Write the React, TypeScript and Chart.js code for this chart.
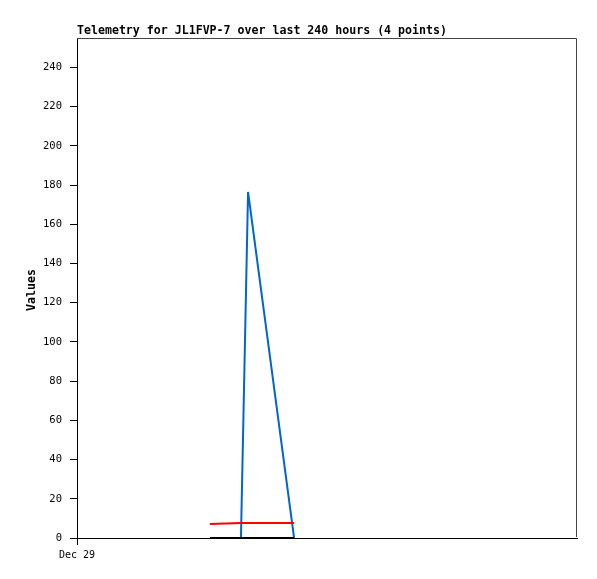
import React, { useEffect, useRef } from "react";
import { Chart, registerables } from "chart.js";

Chart.register(...registerables);

const TITLE = "Telemetry for JL1FVP-7 over last 240 hours (4 points)";
const Y_TITLE = "Values";
const X_LABEL = "Dec 29";

// hours since Dec 29 00:00
const times = [63.8, 78.7, 82.1, 104.2];
const seriesBlue = [0, 0, 176.5, 0];
const seriesRed = [7.1, 7.7, 7.7, 7.7];
const seriesBlack = [0, 0, 0, 0];

const X_MIN = 0;
const X_MAX = 240;
const Y_MIN = 0;
const Y_MAX = 255;
const Y_STEP = 20;

const W = 597;
const H = 579;

const toPts = (vals: number[]) => times.map((t, i) => ({ x: t, y: vals[i] }));

export default function App() {
  const ref = useRef<HTMLCanvasElement | null>(null);

  useEffect(() => {
    if (!ref.current) return;
    const decor = {
      id: "decor",
      beforeDatasetsDraw(chart: any) {
        const { ctx, chartArea: a } = chart;
        ctx.save();
        ctx.strokeStyle = "#444";
        ctx.lineWidth = 1;
        ctx.beginPath();
        ctx.moveTo(a.left, a.top + 0.5);
        ctx.lineTo(a.right - 0.5, a.top + 0.5);
        ctx.lineTo(a.right - 0.5, a.bottom - 1);
        ctx.stroke();
        ctx.restore();
      },
      afterDraw(chart: any) {
        const { ctx, chartArea: a } = chart;
        ctx.save();
        // x-axis tick mark at the first label
        const xs = chart.scales.x;
        const px = Math.round(xs.getPixelForValue(X_MIN)) + 0.5;
        ctx.strokeStyle = "#000";
        ctx.lineWidth = 1;
        ctx.beginPath();
        ctx.moveTo(px, a.bottom - 1);
        ctx.lineTo(px, a.bottom + 7);
        ctx.stroke();
        ctx.fillStyle = "#000";
        ctx.font = "bold 11.6px 'DejaVu Sans Mono'";
        ctx.textBaseline = "alphabetic";
        ctx.textAlign = "left";
        ctx.fillText(TITLE, a.left, 34);
        ctx.translate(32, 290);
        ctx.rotate(-Math.PI / 2);
        ctx.textAlign = "center";
        ctx.textBaseline = "middle";
        ctx.fillText(Y_TITLE, 0, 0);
        ctx.restore();
      },
    };
    const chart = new Chart(ref.current, {
      type: "line",
      data: {
        datasets: [
          { data: toPts(seriesBlack), borderColor: "#000", borderWidth: 2, pointRadius: 0, order: 0, tension: 0 },
          { data: toPts(seriesRed), borderColor: "#ff0000", borderWidth: 2, pointRadius: 0, order: 1, tension: 0 },
          { data: toPts(seriesBlue), borderColor: "#0066cc", borderWidth: 2, pointRadius: 0, order: 2, tension: 0 },
        ],
      },
      options: {
        responsive: false,
        animation: false,
        events: [],
        layout: { padding: { top: 38, right: 20, left: 0, bottom: 0 } },
        plugins: { legend: { display: false }, tooltip: { enabled: false }, title: { display: false } },
        scales: {
          x: {
            type: "linear",
            min: X_MIN,
            max: X_MAX,
            afterBuildTicks: (s: any) => {
              s.ticks = [{ value: X_MIN }];
            },
            afterFit: (s: any) => {
              s.height = 41;
            },
            ticks: {
              callback: (v: any) => (v === X_MIN ? X_LABEL : ""),
              color: "#000",
              font: { family: "'DejaVu Sans Mono'", size: 10 },
              padding: 11,
              maxRotation: 0,
            },
            grid: { display: true, drawOnChartArea: false, drawTicks: false, color: "rgba(0,0,0,0)" },
            border: { display: true, color: "#000", width: 1 },
          },
          y: {
            min: Y_MIN,
            max: Y_MAX,
            afterBuildTicks: (s: any) => {
              const t = [];
              for (let v = Y_MIN; v <= Y_MAX; v += Y_STEP) t.push({ value: v });
              s.ticks = t;
            },
            afterFit: (s: any) => {
              s.width = 77;
            },
            ticks: {
              color: "#000",
              font: { family: "'DejaVu Sans Mono'", size: 10.5 },
              padding: 8,
            },
            grid: { drawOnChartArea: false, drawTicks: true, tickLength: 7, color: "#000" },
            border: { color: "#000", width: 1 },
          },
        },
      },
      plugins: [decor],
    });
    return () => chart.destroy();
  }, []);

  return (
    <div style={{ position: "fixed", left: 0, top: 0, width: W, height: H, background: "#fff" }}>
      <canvas ref={ref} width={W} height={H} style={{ width: W, height: H, display: "block" }} />
    </div>
  );
}
